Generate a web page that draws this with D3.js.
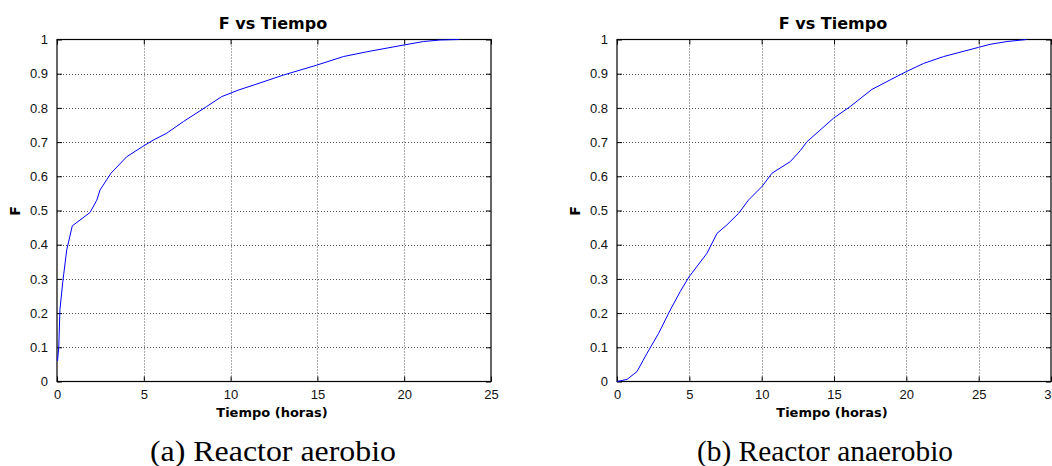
<!DOCTYPE html>
<html>
<head>
<meta charset="utf-8">
<script src="https://cdn.jsdelivr.net/npm/d3@7"></script>
<style>
  body { margin: 0; background: #fff; }
  svg { display: block; }
</style>
</head>
<body>
<svg id="chart" width="1052" height="466"></svg>
<script>
// datos
var aerobioTiempo = [0.03, 0.1, 0.17, 0.33, 0.56, 0.88, 1.9, 2.29, 2.48, 3.11, 4.01, 4.93, 5.55, 6.32, 7.28, 8.62, 9.49, 10.44, 11.4, 13.04, 14.96, 16.49, 17.84, 19.99, 21.1, 22.06, 23.17];
var aerobioF = [0.06, 0.1, 0.21, 0.29, 0.385, 0.455, 0.494, 0.53, 0.56, 0.609, 0.657, 0.687, 0.706, 0.726, 0.76, 0.804, 0.833, 0.852, 0.868, 0.896, 0.925, 0.95, 0.964, 0.984, 0.994, 0.9985, 1.0];

var anaerobioTiempo = [0, 0.69, 1.38, 2.07, 2.88, 3.68, 4.37, 4.98, 6.22, 6.91, 7.6, 8.41, 9.1, 10.02, 10.71, 11.98, 12.67, 13.13, 14.97, 16.12, 17.62, 18.89, 19.99, 21.19, 22.57, 24.99, 25.8, 26.95, 28.33];
var anaerobioF = [0, 0.006, 0.029, 0.082, 0.141, 0.209, 0.263, 0.306, 0.375, 0.433, 0.458, 0.492, 0.531, 0.57, 0.609, 0.643, 0.675, 0.701, 0.77, 0.804, 0.854, 0.882, 0.906, 0.93, 0.95, 0.977, 0.986, 0.994, 1.0];

var yTicks = [0, 0.1, 0.2, 0.3, 0.4, 0.5, 0.6, 0.7, 0.8, 0.9, 1];
var xTicksA = [0, 5, 10, 15, 20, 25];
var xTicksB = [0, 5, 10, 15, 20, 25, 30];

var titulo = "F vs Tiempo";
var xLabel = "Tiempo (horas)";
var yLabel = "F";
var captions = ["(a) Reactor aerobio", "(b) Reactor anaerobio"];

var svg = d3.select("#chart");

function drawPanel(left, right, xs, ys, xTicks, caption, capX, capW) {
  var top = 39.5, bottom = 381.5;
  var x = d3.scaleLinear().domain([0, xTicks[xTicks.length - 1]]).range([left, right]);
  var y = d3.scaleLinear().domain([0, 1]).range([bottom, top]);
  var g = svg.append("g");

  // grid
  g.append("g").selectAll("line")
    .data(xTicks.slice(1, -1))
    .enter().append("line")
      .attr("x1", function(d) { return Math.round(x(d)) + 0.5; })
      .attr("x2", function(d) { return Math.round(x(d)) + 0.5; })
      .attr("y1", top).attr("y2", bottom)
      .attr("stroke", "#555")
      .attr("stroke-dasharray", "1,2");
  g.append("g").selectAll("line")
    .data(yTicks.slice(1, -1))
    .enter().append("line")
      .attr("y1", function(d) { return Math.round(y(d)) + 0.5; })
      .attr("y2", function(d) { return Math.round(y(d)) + 0.5; })
      .attr("x1", left).attr("x2", right)
      .attr("stroke", "#555")
      .attr("stroke-dasharray", "1,2");

  // axes with inward ticks
  var fmt = function(d) { return d3.format("")(d); };
  g.append("g")
    .attr("transform", "translate(0," + bottom + ")")
    .call(d3.axisBottom(x).tickValues(xTicks).tickSizeInner(-5).tickSizeOuter(0).tickPadding(8).tickFormat(fmt));
  g.append("g")
    .attr("transform", "translate(0," + top + ")")
    .call(d3.axisTop(x).tickValues(xTicks).tickSizeInner(-5).tickSizeOuter(0).tickFormat(""));
  g.append("g")
    .attr("transform", "translate(" + left + ",0)")
    .call(d3.axisLeft(y).tickValues(yTicks).tickSizeInner(-5).tickSizeOuter(0).tickPadding(9).tickFormat(fmt));
  g.append("g")
    .attr("transform", "translate(" + right + ",0)")
    .call(d3.axisRight(y).tickValues(yTicks).tickSizeInner(-5).tickSizeOuter(0).tickFormat(""));

  g.selectAll(".domain").remove();
  g.selectAll(".tick line").attr("stroke", "#000");
  g.selectAll(".tick text")
    .attr("font-family", "'Liberation Sans', Arial, sans-serif")
    .attr("font-size", 13)
    .attr("fill", "#111");

  g.append("rect")
    .attr("x", left).attr("y", top)
    .attr("width", right - left).attr("height", bottom - top)
    .attr("fill", "none").attr("stroke", "#000").attr("stroke-width", 1.2);

  var line = d3.line()
    .x(function(d) { return x(d[0]); })
    .y(function(d) { return y(d[1]); });
  g.append("path")
    .datum(d3.zip(xs, ys))
    .attr("d", line)
    .attr("fill", "none")
    .attr("stroke", "#0000ff")
    .attr("stroke-width", 1);

  var cx = (left + right) / 2;
  g.append("text")
    .attr("x", cx - 1).attr("y", 29)
    .attr("text-anchor", "middle")
    .attr("font-family", "'DejaVu Sans', sans-serif")
    .attr("font-weight", "bold").attr("font-size", 16)
    .text(titulo);
  g.append("text")
    .attr("x", cx - 2).attr("y", 416.5)
    .attr("text-anchor", "middle")
    .attr("font-family", "'DejaVu Sans', sans-serif")
    .attr("font-weight", "bold").attr("font-size", 13)
    .text(xLabel);
  g.append("text")
    .attr("transform", "translate(" + (left - 37) + ",211) rotate(-90)")
    .attr("text-anchor", "middle")
    .attr("font-family", "'DejaVu Sans', sans-serif")
    .attr("font-weight", "bold").attr("font-size", 14)
    .text(yLabel);
  g.append("text")
    .attr("x", capX).attr("y", 461)
    .attr("text-anchor", "middle")
    .attr("font-family", "'Liberation Serif', 'Times New Roman', serif")
    .attr("font-size", 29)
    .attr("textLength", capW)
    .attr("lengthAdjust", "spacingAndGlyphs")
    .text(caption);
}

drawPanel(57, 491, aerobioTiempo, aerobioF, xTicksA, captions[0], 273, 246);
drawPanel(617, 1051, anaerobioTiempo, anaerobioF, xTicksB, captions[1], 825, 256);
</script>
</body>
</html>
